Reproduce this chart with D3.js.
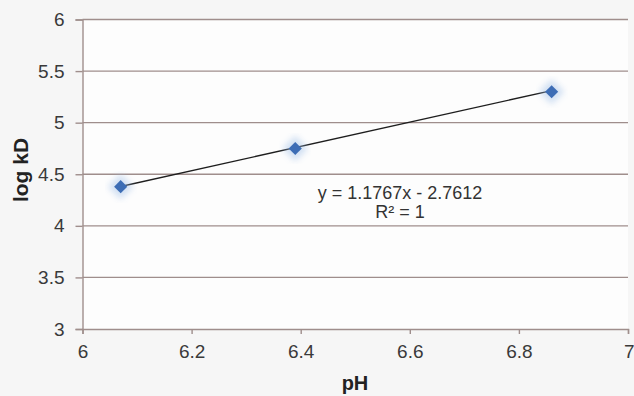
<!DOCTYPE html>
<html><head><meta charset="utf-8">
<script src="https://cdn.jsdelivr.net/npm/d3@7"></script>
<style>body{margin:0;background:#fff}svg{display:block}</style>
</head><body>
<svg id="c" width="634" height="396"></svg>
<script>
const phValues = [6.07, 6.39, 6.86];
const logKD = [4.38, 4.75, 5.30];
const xTicks = [6, 6.2, 6.4, 6.6, 6.8, 7];
const yTicks = [3, 3.5, 4, 4.5, 5, 5.5, 6];
const slope = 1.1767, intercept = -2.7612;
const eqLabels = ["y = 1.1767x - 2.7612", "R² = 1"];

const svg = d3.select("#c");
const defs = svg.append("defs");
defs.append("filter").attr("id","blur").append("feGaussianBlur").attr("stdDeviation",3);
svg.append("rect").attr("width",634).attr("height",396).attr("fill","#f6f6f6");
const L = 82.5, R = 628, T = 19.5, B = 329;
svg.append("rect").attr("x",L).attr("y",T).attr("width",R-L).attr("height",B-T).attr("fill","#fdfdfd");
const x = d3.scaleLinear().domain([6,7]).range([L,R]);
const y = d3.scaleLinear().domain([3,6]).range([B,T]);
const grid = "#9f8e8c";
const font = "Liberation Sans, Arial, sans-serif";
// gridlines
svg.append("g").selectAll("line").data(yTicks.slice(1)).join("line")
  .attr("x1",L).attr("x2",R).attr("y1",d=>y(d)).attr("y2",d=>y(d))
  .attr("stroke",grid).attr("stroke-width",1.4);
// axes
const xa = svg.append("g").attr("transform",`translate(0,${B})`)
  .call(d3.axisBottom(x).tickValues(xTicks).tickFormat(d3.format("")).tickSize(5).tickPadding(11));
const ya = svg.append("g").attr("transform",`translate(${L},0)`)
  .call(d3.axisLeft(y).tickValues(yTicks).tickFormat(d3.format("")).tickSize(7).tickPadding(11));
[xa,ya].forEach(a=>{
  a.selectAll("path,line").attr("stroke",grid).attr("stroke-width",1.4);
  a.selectAll("text").attr("font-family",font).attr("font-size",19).attr("fill","#3a3a3a");
});
xa.select(".tick:last-of-type text").attr("text-anchor","end").attr("dx","6");
// trendline
svg.append("line")
  .attr("x1",x(phValues[0])).attr("y1",y(slope*phValues[0]+intercept))
  .attr("x2",x(phValues[2])).attr("y2",y(slope*phValues[2]+intercept))
  .attr("stroke","#1e1e1e").attr("stroke-width",1.4);
// markers
const pts = phValues.map((v,i)=>({x:v,y:logKD[i]}));
const diamond = d3.symbolDiamond2 || d3.symbolDiamond;
svg.append("g").selectAll("path").data(pts).join("path")
  .attr("d",d3.symbol(diamond, 420))
  .attr("transform",d=>`translate(${x(d.x)},${y(d.y)})`)
  .attr("fill","#9dbde6").attr("opacity",0.45).attr("filter","url(#blur)");
svg.append("g").selectAll("path").data(pts).join("path")
  .attr("d",d3.symbol(diamond, 110))
  .attr("transform",d=>`translate(${x(d.x)},${y(d.y)})`)
  .attr("fill","#3d6db5");
// equation
svg.append("g").selectAll("text").data(eqLabels).join("text")
  .attr("x",400).attr("y",(d,i)=>199+i*19).attr("text-anchor","middle")
  .attr("font-family",font).attr("font-size",18).attr("fill","#333")
  .text(d=>d);
// axis titles
svg.append("text").attr("x",355).attr("y",390).attr("text-anchor","middle")
  .attr("font-family",font).attr("font-size",20).attr("font-weight","bold").attr("fill","#222").text("pH");
svg.append("text").attr("transform","translate(28,170) rotate(-90)").attr("text-anchor","middle")
  .attr("font-family",font).attr("font-size",21).attr("font-weight","bold").attr("fill","#222").text("log kD");
</script>
</body></html>
